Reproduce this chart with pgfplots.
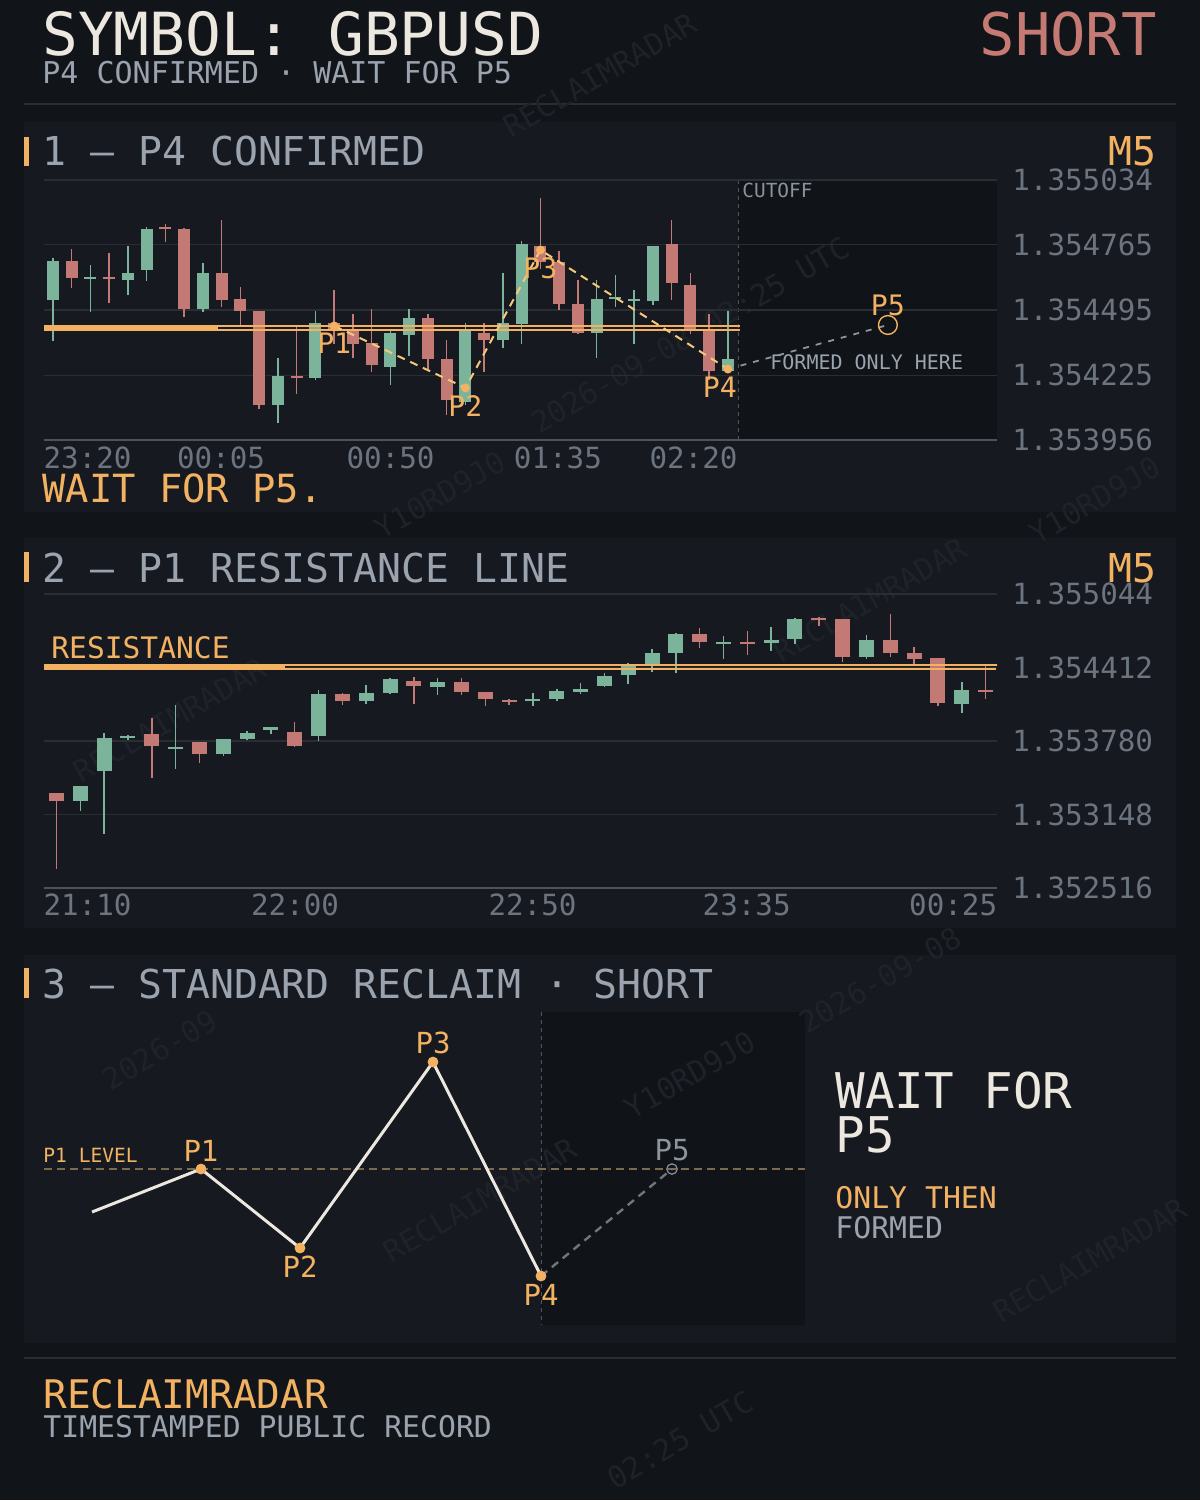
\documentclass[border=0pt]{standalone}
\usepackage{fontspec}
\usepackage{pgfplots}
\pgfplotsset{compat=1.18}
\setmainfont{DejaVu Sans Mono}
\newfontfamily\mono{DejaVu Sans Mono}
\definecolor{bgc}{RGB}{17,20,25}
\definecolor{panelc}{RGB}{22,25,32}
\definecolor{cutc}{RGB}{16,19,24}
\definecolor{gridc}{RGB}{42,45,51}
\definecolor{axisc}{RGB}{78,82,89}
\definecolor{orangec}{RGB}{242,178,98}
\definecolor{creamc}{RGB}{236,231,223}
\definecolor{grayc}{RGB}{154,163,174}
\definecolor{cutlblc}{RGB}{138,146,156}
\definecolor{tickc}{RGB}{108,116,128}
\definecolor{gc}{RGB}{123,180,154}
\definecolor{rc}{RGB}{196,122,116}
\definecolor{shortc}{RGB}{197,122,115}
\definecolor{patc}{RGB}{246,200,122}
\definecolor{p5c}{RGB}{140,148,158}
\definecolor{levelc}{RGB}{125,107,79}
\definecolor{wmc}{RGB}{30,34,41}
\definecolor{dividerc}{RGB}{42,46,51}
\definecolor{vdashc}{RGB}{80,86,95}
% exact price transform: 1.35xxxx -> xxxx (units of 1e-6 above 1.35)
\makeatletter
\def\ptrafo#1{\pgfmathfloatparsenumber{#1}\expandafter\ptrafoB\pgfmathresult\relax}
\def\ptrafoB#1Y1.35#2e#3]\relax{\dimen@=0.#2pt\multiply\dimen@ by 10000\relax\edef\pgfmathresult{\strip@pt\dimen@}}
\makeatother
\newcommand\fs[1]{\fontsize{#1}{#1}\selectfont}
\newcommand\candles[2]{%
  \foreach \ci/\ck/\cO/\cH/\cL/\cC in {#1} {%
    \edef\tmp{\noexpand\addplot[draw=\ck c, line width=0.75pt, forget plot] coordinates {(\ci,\cH) (\ci,\cL)};
      \noexpand\addplot[draw=\ck c, line width=#2, forget plot] coordinates {(\ci,\cO) (\ci,\cC)};}%
    \tmp
  }}
\begin{document}
\begin{tikzpicture}
\useasboundingbox (0,0) rectangle (600pt,-750pt);
\begin{scope}[x=0.5pt,y=-0.5pt]
\fill[bgc] (0,0) rectangle (1200,1500);
\fill[panelc] (24,122) rectangle (1176,512);
\fill[panelc] (24,538) rectangle (1176,928);
\fill[panelc] (24,955) rectangle (1176,1343);
\fill[cutc] (738,180) rectangle (997,440);
\fill[cutc] (541,1012) rectangle (805,1325);
\draw[dividerc, line width=0.6pt] (24,104) -- (1176,104);
\draw[dividerc, line width=0.6pt] (24,1358) -- (1176,1358);
\draw[vdashc, line width=0.5pt, dash pattern=on 2pt off 2pt] (738,180) -- (738,440);
\draw[vdashc, line width=0.5pt, dash pattern=on 2pt off 2pt] (541,1012) -- (541,1325);
% faint watermarks
\begin{scope}[every node/.style={text=wmc, font=\mono\fs{15}, rotate=30, inner sep=0pt}]
\node at (600,75) {RECLAIMRADAR};
\node at (690,335) {2026-09-08 02:25 UTC};
\node at (1095,500) {Y10RD9J0};
\node at (440,495) {Y10RD9J0};
\node at (170,720) {RECLAIMRADAR};
\node at (870,600) {RECLAIMRADAR};
\node at (880,980) {2026-09-08};
\node at (480,1200) {RECLAIMRADAR};
\node at (690,1075) {Y10RD9J0};
\node at (160,1050) {2026-09};
\node at (1090,1260) {RECLAIMRADAR};
\node at (680,1440) {02:25 UTC};
\end{scope}
% header
\node[anchor=base west, inner sep=0pt, text=creamc, font=\mono\fs{29.7}] at (42,55) {SYMBOL: GBPUSD};
\node[anchor=base east, inner sep=0pt, text=shortc, font=\mono\fs{29.4}] at (1157,55) {SHORT};
\node[anchor=base west, inner sep=0pt, text=grayc, font=\mono\fs{15}] at (42,83) {P4 CONFIRMED · WAIT FOR P5};
% panel 1 text
\fill[orangec] (24,137) rectangle (29,166);
\node[anchor=base west, inner sep=0pt, text=grayc, font=\mono\fs{19.9}] at (42,165) {1 — P4 CONFIRMED};
\node[anchor=base east, inner sep=0pt, text=orangec, font=\mono\fs{19.9}] at (1157,165) {M5};
\node[anchor=base west, inner sep=0pt, text=cutlblc, font=\mono\fs{9.7}] at (742,197) {CUTOFF};
\node[anchor=base west, inner sep=0pt, text=grayc, font=\mono\fs{10}] at (770,369) {FORMED ONLY HERE};
\node[anchor=base west, inner sep=0pt, text=orangec, font=\mono\fs{19.4}] at (42,502) {WAIT FOR P5.};
% panel 2 text
\fill[orangec] (24,552) rectangle (29,582);
\node[anchor=base west, inner sep=0pt, text=grayc, font=\mono\fs{19.9}] at (42,582) {2 — P1 RESISTANCE LINE};
\node[anchor=base east, inner sep=0pt, text=orangec, font=\mono\fs{19.9}] at (1157,582) {M5};
\node[anchor=base west, inner sep=0pt, text=orangec, font=\mono\fs{14.8}] at (51,658) {RESISTANCE};
% panel 3 text
\fill[orangec] (24,968) rectangle (29,998);
\node[anchor=base west, inner sep=0pt, text=grayc, font=\mono\fs{19.9}] at (42,998) {3 — STANDARD RECLAIM · SHORT};
\node[anchor=base west, inner sep=0pt, text=orangec, font=\mono\fs{9.8}] at (43,1162) {P1 LEVEL};
\node[anchor=base west, inner sep=0pt, text=creamc, font=\mono\fs{24.6}] at (835,1108) {WAIT FOR};
\node[anchor=base west, inner sep=0pt, text=creamc, font=\mono\fs{24.6}] at (835,1152) {P5};
\node[anchor=base west, inner sep=0pt, text=orangec, font=\mono\fs{14.9}] at (835,1208) {ONLY THEN};
\node[anchor=base west, inner sep=0pt, text=grayc, font=\mono\fs{14.9}] at (835,1238) {FORMED};
% footer
\node[anchor=base west, inner sep=0pt, text=orangec, font=\mono\fs{19.7}] at (43,1408) {RECLAIMRADAR};
\node[anchor=base west, inner sep=0pt, text=grayc, font=\mono\fs{14.9}] at (43,1437) {TIMESTAMPED PUBLIC RECORD};
\end{scope}

% ===== Panel 1 =====
\begin{axis}[
  at={(22pt,-220pt)}, anchor=south west,
  width=476.5pt, height=130pt, scale only axis,
  xmin=-0.48, xmax=50.35,
  y coord trafo/.code={\ptrafo{#1}},
  ymin=1.353956, ymax=1.355034,
  scaled x ticks=false, scaled y ticks=false,
  ytick={1.353956,1.354225,1.354495,1.354765,1.355034},
  yticklabels={1.353956,1.354225,1.354495,1.354765,1.355034},
  xtick={1.84,8.96,18.0,26.93,34.16},
  xticklabels={23:20,00:05,00:50,01:35,02:20},
  axis x line*=bottom, axis y line*=right,
  x axis line style={draw=axisc, line width=0.6pt},
  y axis line style={draw=none},
  major tick length=0pt,
  ymajorgrids, grid style={draw=gridc, line width=0.6pt},
  tick label style={font=\mono\fs{14.6}, text=tickc, inner sep=0pt},
  xticklabel style={anchor=north, yshift=-3pt},
  yticklabel style={anchor=west, xshift=7.5pt},
]
\candles{0/g/1.354536/1.354711/1.354366/1.354698,
1/r/1.354698/1.354748/1.354586/1.354628,
2/g/1.354624/1.354682/1.354487/1.354632,
3/r/1.354632/1.354731/1.354524/1.354624,
4/g/1.354619/1.354760/1.354557/1.354648,
5/g/1.354661/1.354839/1.354615/1.354831,
6/r/1.354839/1.354852/1.354777/1.354831,
7/r/1.354831/1.354833/1.354466/1.354499,
8/g/1.354499/1.354690/1.354487/1.354648,
9/r/1.354648/1.354868/1.354507/1.354536,
10/r/1.354541/1.354590/1.354425/1.354491,
11/r/1.354491/1.354493/1.354085/1.354101,
12/g/1.354101/1.354296/1.354026/1.354221,
13/r/1.354221/1.354429/1.354147/1.354213,
14/g/1.354213/1.354491/1.354205/1.354441,
15/r/1.354441/1.354578/1.354354/1.354412,
16/r/1.354412/1.354478/1.354296/1.354354,
17/r/1.354358/1.354499/1.354238/1.354267,
18/g/1.354259/1.354412/1.354184/1.354400,
19/g/1.354391/1.354499/1.354304/1.354462,
20/r/1.354462/1.354478/1.354250/1.354292,
21/r/1.354292/1.354371/1.354060/1.354122,
22/g/1.354114/1.354441/1.354101/1.354412,
23/r/1.354400/1.354441/1.354238/1.354371,
24/g/1.354371/1.354648/1.354337/1.354441,
25/g/1.354437/1.354781/1.354354/1.354769,
26/r/1.354760/1.354959/1.354665/1.354694,
27/r/1.354694/1.354740/1.354495/1.354520,
28/r/1.354520/1.354619/1.354395/1.354400,
29/g/1.354400/1.354619/1.354296/1.354541,
30/g/1.354541/1.354640/1.354507/1.354549,
31/g/1.354532/1.354578/1.354354/1.354541,
32/g/1.354532/1.354762/1.354516/1.354760,
33/r/1.354769/1.354868/1.354536/1.354607,
34/r/1.354599/1.354648/1.354395/1.354412,
35/r/1.354412/1.354478/1.354205/1.354242,
36/g/1.354242/1.354491/1.354240/1.354292}{6pt}
\addplot[orangec, line width=2pt] coordinates {(-0.48,1.354420) (8.8,1.354420)};
\addplot[orangec, line width=1pt] coordinates {(-0.48,1.354427) (36.64,1.354427)};
\addplot[orangec, line width=1pt] coordinates {(-0.48,1.354414) (36.64,1.354414)};
\addplot[patc, line width=1pt, dash pattern=on 4pt off 3pt] coordinates {(15,1.354429) (22,1.354172) (26,1.354744) (36,1.354250)};
\addplot[p5c, line width=0.9pt, dash pattern=on 3pt off 3.5pt] coordinates {(36,1.354250) (44.53,1.354433)};
\addplot[orangec, only marks, mark=o, mark size=4.7pt, mark options={line width=0.7pt},
  nodes near coords, point meta=explicit symbolic, nodes near coords align=above,
  every node near coord/.append style={font=\mono\fs{14.1}, text=orangec, inner sep=0pt, yshift=4.4pt}]
  coordinates {(44.53,1.354433) [P5]};
\addplot[orangec, only marks, mark=*, mark size=2pt,
  nodes near coords, point meta=explicit symbolic, nodes near coords align=below,
  every node near coord/.append style={font=\mono\fs{14.1}, text=orangec, inner sep=0pt, yshift=-3.5pt}]
  coordinates {(15,1.354429) [P1] (22,1.354172) [P2] (26,1.354744) [P3]};
\addplot[orangec, only marks, mark=*, mark size=2pt,
  nodes near coords, point meta=explicit symbolic, nodes near coords align=below,
  every node near coord/.append style={font=\mono\fs{14.1}, text=orangec, inner sep=0pt, yshift=-3.5pt, xshift=-4pt}]
  coordinates {(36,1.354250) [P4]};
\end{axis}

% ===== Panel 2 =====
\begin{axis}[
  at={(22pt,-444pt)}, anchor=south west,
  width=476.5pt, height=147pt, scale only axis,
  xmin=-0.525, xmax=39.48,
  y coord trafo/.code={\ptrafo{#1}},
  ymin=1.352516, ymax=1.355044,
  scaled x ticks=false, scaled y ticks=false,
  ytick={1.352516,1.353148,1.353780,1.354412,1.355044},
  yticklabels={1.352516,1.353148,1.353780,1.354412,1.355044},
  xtick={1.30,10.01,19.98,28.97,37.64},
  xticklabels={21:10,22:00,22:50,23:35,00:25},
  axis x line*=bottom, axis y line*=right,
  x axis line style={draw=axisc, line width=0.6pt},
  y axis line style={draw=none},
  major tick length=0pt,
  ymajorgrids, grid style={draw=gridc, line width=0.6pt},
  tick label style={font=\mono\fs{14.6}, text=tickc, inner sep=0pt},
  xticklabel style={anchor=north, yshift=-2.5pt},
  yticklabel style={anchor=west, xshift=7.5pt},
]
\candles{0/r/1.353333/1.353336/1.352679/1.353264,
1/g/1.353264/1.353395/1.353178/1.353393,
2/g/1.353522/1.353849/1.352980/1.353806,
3/g/1.353806/1.353832/1.353789/1.353823,
4/r/1.353840/1.353978/1.353462/1.353737,
5/g/1.353711/1.354090/1.353539/1.353728,
6/r/1.353771/1.353773/1.353591/1.353668,
7/g/1.353668/1.353799/1.353651/1.353797,
8/g/1.353797/1.353866/1.353789/1.353849,
9/g/1.353875/1.353902/1.353840/1.353900,
10/r/1.353857/1.353943/1.353728/1.353737,
11/g/1.353823/1.354219/1.353780/1.354184,
12/r/1.354184/1.354193/1.354090/1.354124,
13/g/1.354124/1.354262/1.354098/1.354193,
14/g/1.354193/1.354322/1.354184/1.354313,
15/r/1.354296/1.354330/1.354098/1.354253,
16/g/1.354244/1.354322/1.354176/1.354287,
17/r/1.354287/1.354322/1.354176/1.354201,
18/r/1.354201/1.354203/1.354081/1.354141,
19/r/1.354133/1.354141/1.354090/1.354115,
20/g/1.354124/1.354193/1.354081/1.354141,
21/g/1.354141/1.354227/1.354124/1.354210,
22/g/1.354201/1.354279/1.354184/1.354227,
23/g/1.354253/1.354365/1.354244/1.354339,
24/g/1.354348/1.354451/1.354270/1.354434,
25/g/1.354442/1.354571/1.354373/1.354537,
26/g/1.354537/1.354709/1.354365/1.354700,
27/r/1.354700/1.354752/1.354580/1.354631,
28/g/1.354614/1.354683/1.354485/1.354631,
29/r/1.354631/1.354726/1.354519/1.354614,
30/g/1.354623/1.354760/1.354554/1.354648,
31/g/1.354657/1.354838/1.354614/1.354829,
32/r/1.354838/1.354846/1.354769/1.354820,
33/r/1.354829/1.354831/1.354459/1.354502,
34/g/1.354502/1.354691/1.354485/1.354648,
35/r/1.354648/1.354872/1.354502/1.354537,
36/r/1.354537/1.354588/1.354425/1.354485,
37/r/1.354494/1.354496/1.354081/1.354107,
38/g/1.354098/1.354287/1.354021/1.354219,
39/r/1.354219/1.354434/1.354141/1.354201}{7.5pt}
\addplot[orangec, line width=2pt] coordinates {(-0.525,1.354416) (9.6,1.354416)};
\addplot[orangec, line width=1pt] coordinates {(-0.525,1.354434) (39.6,1.354434)};
\addplot[orangec, line width=1pt] coordinates {(-0.525,1.354399) (39.45,1.354399)};
\end{axis}

% ===== Panel 3 =====
\begin{axis}[
  at={(22pt,-662.5pt)}, anchor=south west,
  width=380.5pt, height=156.5pt, scale only axis,
  xmin=0, xmax=761, ymin=0, ymax=313,
  hide axis, clip=false,
]
\addplot[levelc, line width=0.6pt, dash pattern=on 4pt off 2.5pt] coordinates {(0,156) (761,156)};
\addplot[creamc, line width=1.5pt] coordinates {(48,113) (157,156) (256,77) (389,263) (497,49)};
\addplot[p5c!80!black, line width=1.2pt, dash pattern=on 4pt off 3pt] coordinates {(497,49) (628,156)};
\addplot[p5c, only marks, mark=o, mark size=2.6pt, mark options={line width=0.6pt},
  nodes near coords, point meta=explicit symbolic, nodes near coords align=above,
  every node near coord/.append style={font=\mono\fs{14.5}, text=p5c, inner sep=0pt, yshift=3.75pt}]
  coordinates {(628,156) [P5]};
\addplot[orangec, only marks, mark=*, mark size=2.5pt,
  nodes near coords, point meta=explicit symbolic, nodes near coords align=above,
  every node near coord/.append style={font=\mono\fs{14.5}, text=orangec, inner sep=0pt, yshift=3.75pt}]
  coordinates {(157,156) [P1] (389,263) [P3]};
\addplot[orangec, only marks, mark=*, mark size=2.5pt,
  nodes near coords, point meta=explicit symbolic, nodes near coords align=below,
  every node near coord/.append style={font=\mono\fs{14.5}, text=orangec, inner sep=0pt, yshift=-4pt}]
  coordinates {(256,77) [P2] (497,49) [P4]};
\end{axis}
\end{tikzpicture}
\end{document}
